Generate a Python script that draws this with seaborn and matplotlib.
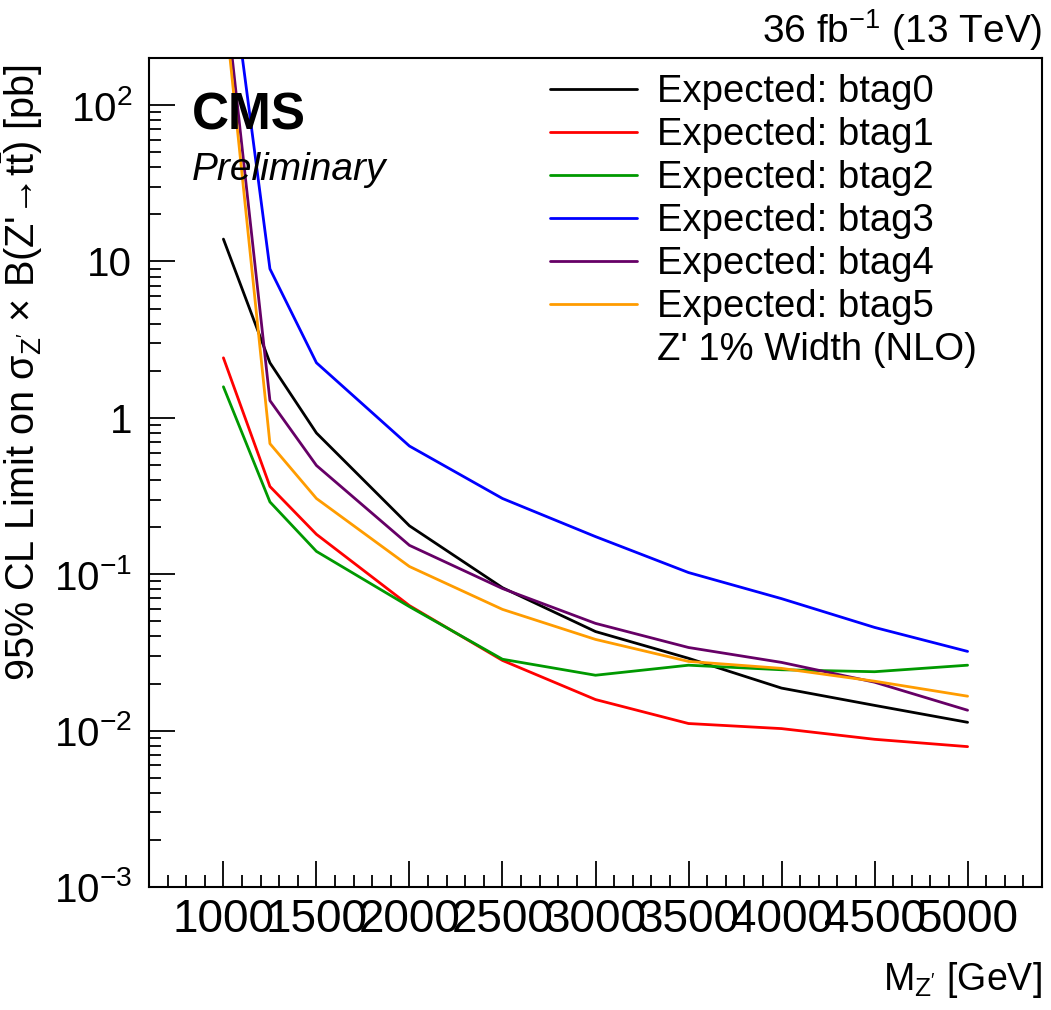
import numpy as np
import pandas as pd
import matplotlib
matplotlib.use("Agg")
import matplotlib.pyplot as plt
from matplotlib.lines import Line2D
from matplotlib.ticker import LogLocator, FixedLocator, NullFormatter
import seaborn as sns

# ---------------- data ----------------
masses = [1000, 1250, 1500, 2000, 2500, 3000, 3500, 4000, 4500, 5000]
btag0 = [13.9, 2.25, 0.80, 0.204, 0.082, 0.043, 0.029, 0.0187, 0.0145, 0.0113]
btag1 = [2.42, 0.364, 0.180, 0.063, 0.0281, 0.0158, 0.0111, 0.0103, 0.0088, 0.0079]
btag2 = [1.58, 0.290, 0.140, 0.062, 0.0286, 0.0226, 0.0262, 0.0245, 0.0238, 0.0262]
btag3 = [1700.0, 8.97, 2.25, 0.66, 0.305, 0.174, 0.1025, 0.0698, 0.0457, 0.0321]
btag4 = [650.0, 1.29, 0.496, 0.153, 0.081, 0.0485, 0.034, 0.0273, 0.0204, 0.0135]
btag5 = [510.0, 0.684, 0.305, 0.112, 0.0596, 0.0383, 0.0277, 0.0250, 0.0207, 0.0166]
series_names = ["Expected: btag0", "Expected: btag1", "Expected: btag2",
                "Expected: btag3", "Expected: btag4", "Expected: btag5"]
series_colors = ["#000000", "#ff0000", "#009900", "#0000ff", "#660066", "#ff9c00"]
extra_legend = "Z' 1% Width (NLO)"
xticks = [1000, 1500, 2000, 2500, 3000, 3500, 4000, 4500, 5000]
yticks = [1e-3, 1e-2, 1e-1, 1, 10, 100]
ytick_labels = [r"10$^{-3}$", r"10$^{-2}$", r"10$^{-1}$", "1", "10", r"10$^{2}$"]

rows = []
for name, vals in zip(series_names, [btag0, btag1, btag2, btag3, btag4, btag5]):
    for m, v in zip(masses, vals):
        rows.append({"mass": m, "limit": v, "series": name})
df = pd.DataFrame(rows)

# ---------------- style ----------------
sns.set_theme(style="white")
plt.rcParams["font.family"] = ["Liberation Sans", "DejaVu Sans"]
plt.rcParams["mathtext.fontset"] = "custom"
plt.rcParams["mathtext.rm"] = "Liberation Sans"
plt.rcParams["mathtext.it"] = "Liberation Sans"
plt.rcParams["mathtext.bf"] = "Liberation Sans:bold"
plt.rcParams["text.color"] = "black"
plt.rcParams["axes.labelcolor"] = "black"
plt.rcParams["xtick.color"] = "black"
plt.rcParams["ytick.color"] = "black"
plt.rcParams["axes.edgecolor"] = "black"
plt.rcParams["axes.linewidth"] = 1.5

fig = plt.figure(figsize=(10.51, 10.10), dpi=100)
W, H = 1051, 1010
L, R, B, T = 149, 1042, 887, 58
ax = fig.add_axes([L / W, 1 - B / H, (R - L) / W, (B - T) / H])

sns.lineplot(data=df, x="mass", y="limit", hue="series", hue_order=series_names,
             palette=dict(zip(series_names, series_colors)), linewidth=2.0,
             ax=ax, legend=False, sort=False)

ax.set_yscale("log")
ax.set_xlim(600, 5400)
ax.set_ylim(1e-3, 200)

ax.set_xticks(xticks, [str(x) for x in xticks])
ax.xaxis.set_minor_locator(FixedLocator(np.arange(600, 5401, 100)))
ax.set_yticks(yticks, ytick_labels)
ax.yaxis.set_minor_locator(LogLocator(base=10, subs=np.arange(2, 10), numticks=20))
ax.yaxis.set_minor_formatter(NullFormatter())

ax.tick_params(axis="both", which="both", bottom=True, left=True, top=False, right=False,
               direction="in", color="black")
ax.tick_params(axis="both", which="major", length=18.5, width=1.3)
ax.tick_params(axis="both", which="minor", length=8.6, width=1.3)
ax.tick_params(axis="x", which="major", labelsize=33, pad=8)
ax.tick_params(axis="y", which="major", labelsize=29, pad=12)
for s in ax.spines.values():
    s.set_color("black")
    s.set_linewidth(1.5)

ax.set_xlabel(r"M$_{\mathregular{Z'}}$ [GeV]", fontsize=27, loc="right")
ax.xaxis.set_label_coords(1.0, -0.088)
ax.set_ylabel("95% CL Limit on " + r"$\sigma_{\mathregular{Z'}}$" + " × B(Z'→t"
              + r"$\bar{\mathregular{t}}$" + ") [pb]",
              fontsize=28.5, loc="top")
ax.yaxis.set_label_coords(-0.116, 0.992)

# legend
handles = [Line2D([], [], color=c, lw=2.0) for c in series_colors]
handles.append(Line2D([], [], color="none", lw=0))
labels = series_names + [extra_legend]
ax.legend(handles, labels, loc="upper left", bbox_to_anchor=(550 / W, 1 - 74 / H),
          bbox_transform=fig.transFigure, frameon=False, fontsize=27.5,
          handlelength=2.28, handletextpad=0.52, labelspacing=0.185, borderpad=0,
          borderaxespad=0)

fig.text(192 / W, 1 - 130 / H, "CMS", fontsize=37, fontweight="bold",
         ha="left", va="baseline")
fig.text(192 / W, 1 - 180 / H, "Preliminary", fontsize=28, fontstyle="italic",
         ha="left", va="baseline")
fig.text(1042 / W, 1 - 43 / H, r"36 fb$^{-1}$ (13 TeV)", fontsize=28,
         ha="right", va="baseline")

fig.savefig("out.png", dpi=100)
